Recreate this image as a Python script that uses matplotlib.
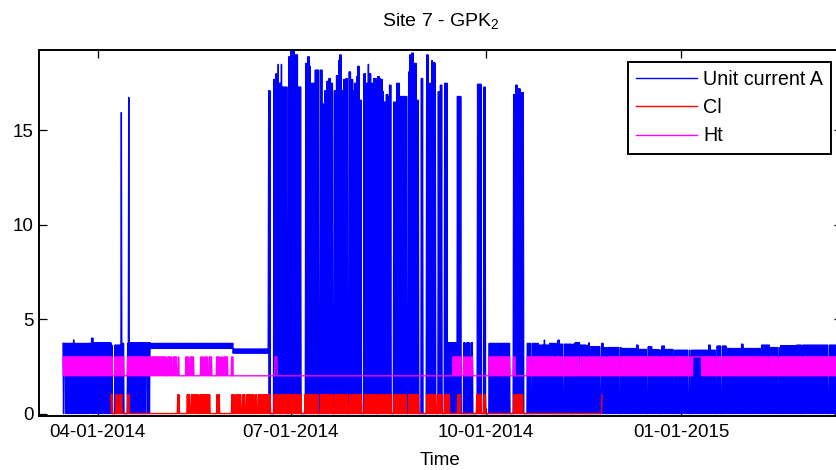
import numpy as np
import matplotlib
matplotlib.use("Agg")
import matplotlib.pyplot as plt
import matplotlib.dates as mdates

plt.rcParams["font.family"] = ["Liberation Sans", "DejaVu Sans"]
plt.rcParams["mathtext.default"] = "regular"

# All times are days since 1 April 2014.
T0 = "2014-04-01"

# Each run is (start_day, low, high) and lasts until the next run starts;
# inside a run the logged value keeps swinging between low and high.
current_runs = [
    (-16.40, 0, 3.72), (-15.70, 3.72, 3.72), (-15.23, 0, 3.72), (-11.69, 0, 3.90),
    (-11.22, 0, 3.72), (-3.91, 3.72, 3.72), (-3.44, 0, 3.72), (-2.97, 0, 4.00),
    (-2.26, 0, 3.75), (6.55, 0, 3.63), (10.70, 0, 15.95), (11.18, 0, 3.72),
    (14.48, 0, 16.75), (14.95, 0, 3.75), (22.49, 3.75, 3.75), (22.96, 0, 3.75),
    (24.61, 3.45, 3.72), (63.75, 3.20, 3.42),
    (80.49, 0, 17.1), (83.09, 0, 17.7), (84.03, 0, 18.0), (84.74, 0, 18.5),
    (85.44, 0, 17.5), (86.39, 0, 18.5), (87.09, 0, 17.3), (90.06, 0, 18.9),
    (91.10, 0, 19.2), (92.75, 0, 19.0), (94.17, 0, 17.3), (97.70, 0, 18.55),
    (98.88, 0, 18.9), (99.83, 0, 18.4), (100.53, 0, 17.5), (102.42, 0, 18.2),
    (104.78, 0, 18.2), (105.96, 0, 16.4), (106.90, 0, 17.1), (107.84, 0, 17.6),
    (108.78, 0, 17.75), (109.73, 0, 17.5), (111.38, 0, 17.1), (112.32, 0, 17.9),
    (113.26, 0, 18.7), (114.06, 0, 19.0), (114.82, 0, 17.1), (115.62, 0, 17.7),
    (116.42, 0, 17.4), (117.04, 0, 17.75), (118.45, 0, 18.1), (119.39, 0, 17.7),
    (120.20, 0, 17.1), (120.95, 0, 17.5), (121.75, 0, 17.85), (122.55, 0, 18.4),
    (123.31, 0, 16.6), (125.29, 0, 18.0), (126.47, 0, 17.5), (127.27, 0, 18.5),
    (128.02, 0, 18.0), (128.83, 0, 17.5), (129.63, 0, 17.75), (131.75, 0, 17.85),
    (132.74, 0, 17.75), (133.54, 0, 17.7), (134.34, 0, 17.05), (135.10, 0, 16.5),
    (135.90, 0, 16.9), (136.70, 0, 16.8), (137.45, 0, 17.4), (139.43, 0, 16.5),
    (140.61, 0, 17.5), (142.17, 0, 16.8), (146.41, 0, 18.1), (146.98, 0, 19.0),
    (147.69, 0, 19.1), (148.96, 0, 18.55), (150.19, 0, 16.6), (152.26, 0, 17.75),
    (154.76, 0, 19.0), (155.70, 0, 17.3), (156.41, 0, 17.5), (157.12, 0, 18.7),
    (157.92, 0, 18.6), (158.77, 0, 18.55), (160.18, 0, 17.05), (161.36, 0, 17.4),
    (163.25, 0, 17.5), (164.80, 0, 3.75), (169.52, 0, 16.8), (171.12, 0, 0),
    (172.35, 0, 3.75), (178.67, 0, 17.45), (181.78, 0, 17.3), (184.14, 0, 3.72),
    (195.92, 0, 16.9), (196.73, 0, 17.4), (197.91, 0, 17.2), (199.32, 0, 17.0),
    (202.24, 0, 3.72), (207.70, 0, 3.63), (210.40, 0, 3.89), (210.90, 0, 3.63),
    (212.90, 0, 3.72), (217.10, 0, 3.89), (217.95, 0, 3.68), (225.00, 0, 3.75),
    (227.40, 0, 3.63), (231.30, 0, 3.75), (232.10, 0, 3.54), (237.60, 0, 3.72),
    (238.40, 0, 3.50), (247.00, 0, 3.45), (254.10, 0, 3.63), (254.90, 0, 3.40),
    (259.60, 0, 3.54), (261.20, 0, 3.38), (265.90, 0, 3.58), (267.50, 0, 3.40),
    (271.40, 0, 3.36), (288.00, 0, 3.63), (288.80, 0, 3.36), (291.84, 0, 3.58),
    (296.60, 0, 3.45), (303.60, 0, 3.68), (304.40, 0, 3.45), (313.10, 0, 3.63),
    (317.00, 0, 3.50), (321.70, 0, 3.60), (329.60, 0, 3.63),
]
current_end = 352.3

cl_runs = [
    (6.22, 0, 1), (7.64, 0, 0), (8.25, 0, 1), (9.38, 0, 0), (10.00, 0, 1),
    (11.27, 0, 0), (14.10, 0, 1), (14.85, 0, 0),
    (37.49, 0, 1), (38.43, 0, 0), (41.92, 0, 1), (43.48, 0, 0), (43.95, 0, 1),
    (47.72, 0, 0), (48.19, 0, 1), (49.75, 0, 0), (50.08, 0, 1), (52.91, 0, 0),
    (56.07, 0, 1), (57.62, 0, 0),
    (62.81, 0, 1), (64.70, 0, 0), (65.17, 0, 1), (67.38, 0, 0), (67.86, 0, 1),
    (69.41, 0, 0), (69.88, 0, 1), (73.33, 0, 0), (73.80, 0, 1), (75.21, 0, 0),
    (75.68, 0, 1), (152.26, 0, 0), (153.11, 0, 1),
    (166.08, 0, 0), (169.52, 0, 1), (171.12, 0, 0), (178.34, 0, 1), (181.02, 0, 0),
    (181.78, 0, 1), (182.91, 0, 0), (195.92, 0, 1), (200.64, 0, 0), (237.61, 1, 1),
]
cl_end = 237.8

ht_runs = [
    (-16.40, 2, 3),
    (32.39, 2, 2), (32.87, 2, 3), (34.75, 2, 2), (35.22, 2, 3), (37.20, 2, 2),
    (37.96, 2, 3), (38.43, 2, 2), (41.12, 2, 3), (42.67, 2, 2), (43.15, 2, 3),
    (45.36, 2, 2), (48.19, 2, 3), (50.08, 2, 2), (50.55, 2, 3), (51.96, 2, 2),
    (52.44, 2, 3), (53.71, 2, 2), (56.07, 2, 3), (57.39, 2, 2), (57.86, 2, 3),
    (59.04, 2, 2), (59.51, 2, 3), (61.54, 2, 2), (62.81, 2, 3), (63.61, 2, 2),
    (83.56, 3, 3), (84.50, 2, 2),
    (167.35, 2, 3), (171.12, 2, 2), (172.35, 2, 3), (177.06, 2, 2),
    (184.14, 2, 3), (194.37, 2, 2), (195.92, 2, 3), (196.73, 2, 2),
    (202.24, 2, 3), (226.81, 2, 2), (227.28, 2, 3),
    (280.52, 3, 3), (284.76, 2, 3), (315.79, 2, 2), (316.27, 2, 3),
]
ht_end = 352.3

# Outages (start_day, end_day): every signal sits at its idle level.
outages = [
    (7.03, 7.64), (12.35, 13.77),
    (81.53, 83.09), (89.59, 90.06), (96.05, 97.70), (104.21, 104.78),
    (110.81, 111.38), (117.89, 118.45), (124.25, 125.29), (131.28, 131.75),
    (138.40, 139.43), (145.66, 146.41), (151.46, 152.26), (153.11, 154.76),
    (159.48, 160.18), (162.54, 163.25),
    (173.15, 173.95), (175.51, 175.98), (177.06, 178.67), (181.02, 181.78),
    (182.91, 184.14), (194.37, 195.92), (200.64, 202.24),
    (204.41, 204.88), (209.13, 209.60), (215.40, 215.87), (219.36, 219.83),
    (223.28, 223.75), (230.35, 230.82), (236.81, 237.60), (239.78, 240.25),
    (246.05, 246.52), (253.12, 253.59), (258.64, 259.11), (264.91, 265.38),
    (271.23, 271.70), (278.30, 278.77), (279.25, 279.72), (291.36, 291.84),
    (294.10, 294.57), (320.98, 321.45), (331.82, 332.30), (344.56, 345.03),
]

xtick_days = ["2014-04-01", "2014-07-01", "2014-10-01", "2015-01-01"]
xtick_labels = ["04-01-2014", "07-01-2014", "10-01-2014", "01-01-2015"]
yticks = [0, 5, 10, 15]
x_range_days = (-27.73, 350.91)
y_range = (-0.13, 19.26)


def expand(runs, end, idle, step=0.25):
    """Sample a run table on a fine grid, alternating low/high readings."""
    starts = np.array([r[0] for r in runs])
    lows = np.array([r[1] for r in runs], dtype=float)
    highs = np.array([r[2] for r in runs], dtype=float)
    t = np.arange(starts[0], end, step)
    k = np.searchsorted(starts, t, side="right") - 1
    y = np.where(np.arange(t.size) % 2 == 0, highs[k], lows[k])
    for a, b in outages:
        y[(t >= a) & (t < b)] = idle
    return t, y


base = mdates.date2num(np.datetime64(T0))

fig = plt.figure(figsize=(8.37, 4.70), dpi=100)
ax = fig.add_axes([39 / 837, 54 / 470, 803 / 837, 366 / 470])

series = [
    (current_runs, current_end, 0.0, "#0000ff", "Unit current A"),
    (cl_runs, cl_end, 0.0, "#ff0000", "Cl"),
    (ht_runs, ht_end, 2.0, "#ff00ff", "Ht"),
]
for runs, end, idle, color, label in series:
    t, y = expand(runs, end, idle)
    ax.plot(base + t, y, color=color, lw=1.0, label=label)

ax.set_xlim(base + x_range_days[0], base + x_range_days[1])
ax.set_ylim(*y_range)
ax.set_xticks([mdates.date2num(np.datetime64(d)) for d in xtick_days])
ax.set_xticklabels(xtick_labels)
ax.set_yticks(yticks)
ax.set_yticklabels([str(v) for v in yticks])

for s in ax.spines.values():
    s.set_linewidth(1.4)
ax.tick_params(direction="in", length=5.8, width=0.9, top=True, right=True,
               labelsize=13.5, colors="black")
ax.tick_params(axis="x", pad=6)
ax.tick_params(axis="y", pad=4)

ax.set_title("Site 7 - GPK$_2$", fontsize=14, pad=17)
ax.set_xlabel("Time", fontsize=13.5, labelpad=8)

leg = ax.legend(loc="upper left", bbox_to_anchor=(628 / 837, 1 - 62 / 470),
                bbox_transform=fig.transFigure, borderaxespad=0,
                fontsize=14.2, frameon=True, fancybox=False,
                handlelength=3.1, handletextpad=0.3, borderpad=0.42,
                labelspacing=0.46)
leg.get_frame().set_edgecolor("black")
leg.get_frame().set_linewidth(1.4)
leg.get_frame().set_alpha(1.0)

fig.savefig("out.png", dpi=100)
